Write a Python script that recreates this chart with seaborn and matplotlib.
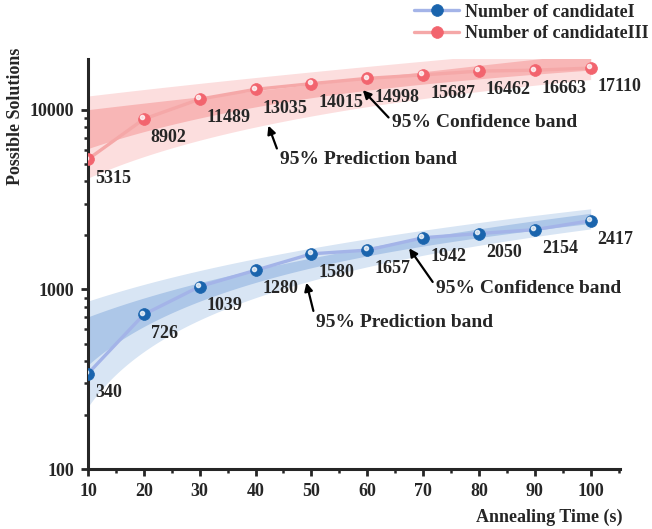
import numpy as np
import matplotlib
matplotlib.use("Agg")
import matplotlib.pyplot as plt
import matplotlib.ticker as mticker
from matplotlib.transforms import offset_copy
import seaborn as sns
import pandas as pd

# ---------------- data ----------------
annealing_time = [10, 20, 30, 40, 50, 60, 70, 80, 90, 100]
candidate_I = [340, 726, 1039, 1280, 1580, 1657, 1942, 2050, 2154, 2417]
candidate_III = [5315, 8902, 11489, 13035, 14015, 14998, 15687, 16462, 16663, 17110]
series_names = ["Number of candidateI", "Number of candidateIII"]
t_975_df8 = 2.306  # Student t, 95% two-sided, 8 dof

# ---------------- style ----------------
sns.set_style("ticks")
plt.rcParams["font.family"] = ["Liberation Serif", "DejaVu Serif"]
plt.rcParams["font.weight"] = "bold"
plt.rcParams["axes.labelweight"] = "bold"

fig = plt.figure(figsize=(6.52, 5.29), dpi=100)
ax = fig.add_axes([88 / 652, 60 / 529, 532 / 652, 410 / 529])

styles = {
    series_names[0]: dict(line="#a4b4e8", marker="#1a64ad", inner="#adc7e8", outer="#d8e5f4"),
    series_names[1]: dict(line="#f5a8a8", marker="#f2646e", inner="#f8b6b6", outer="#fcdede"),
}

x = np.array(annealing_time, dtype=float)
xg = np.linspace(10, 100, 300)

for name, vals in zip(series_names, [candidate_I, candidate_III]):
    y = np.array(vals, dtype=float)
    st = styles[name]
    # OLS linear fit with 95% confidence and prediction bands
    b, a = np.polyfit(x, y, 1)
    resid = y - (a + b * x)
    n = len(x)
    s = np.sqrt(np.sum(resid ** 2) / (n - 2))
    sxx = np.sum((x - x.mean()) ** 2)
    fit = a + b * xg
    se_mean = s * np.sqrt(1 / n + (xg - x.mean()) ** 2 / sxx)
    se_pred = s * np.sqrt(1 + 1 / n + (xg - x.mean()) ** 2 / sxx)
    ax.fill_between(xg, fit - t_975_df8 * se_pred, fit + t_975_df8 * se_pred,
                    color=st["outer"], lw=0, zorder=1)
    ax.fill_between(xg, fit - t_975_df8 * se_mean, fit + t_975_df8 * se_mean,
                    color=st["inner"], lw=0, zorder=2)

    df = pd.DataFrame({"t": annealing_time, "v": vals})
    sns.lineplot(data=df, x="t", y="v", ax=ax, color=st["line"], lw=2.4,
                 marker="o", markersize=8.5, markerfacecolor=st["marker"],
                 markeredgecolor=st["marker"], markeredgewidth=0.5,
                 label=name, zorder=4)
    # specular highlight on the spheres
    hl = offset_copy(ax.transData, fig=fig, x=-1.2, y=1.2, units="points")
    ax.plot(annealing_time, vals, ls="none", marker="o", markersize=3,
            color="white", alpha=0.75, transform=hl, zorder=5)
    for xi, yi in zip(annealing_time, vals):
        ax.annotate(f"{yi}", (xi, yi), xytext=(5, -13.5), textcoords="offset points",
                    ha="left", va="center", fontsize=13, fontweight="bold", zorder=6)

# band annotations (text position, arrow head)
band_notes = [
    ("95% Confidence band", (64.4, 8500), (59.2, 12900)),
    ("95% Prediction band", (44.4, 5330), (42.3, 8180)),
    ("95% Confidence band", (72.3, 1015), (67.5, 1696)),
    ("95% Prediction band", (50.8, 653), (49.1, 1091)),
]
for txt, tpos, head in band_notes:
    ax.annotate(txt, xy=head, xytext=tpos, ha="left", va="center",
                fontsize=14, fontweight="bold", zorder=6,
                arrowprops=dict(arrowstyle="-|>", color="black", lw=1.6,
                                mutation_scale=12, shrinkA=0, shrinkB=0,
                                relpos=(0.0, 0.6)))

ax.set_yscale("log")
ax.set_xlim(10, 105.25)
ax.set_ylim(100, 19230)
ax.set_xticks(range(10, 101, 10))
ax.xaxis.set_minor_locator(mticker.MultipleLocator(5))
ax.set_yticks([100, 1000, 10000])
ax.yaxis.set_major_formatter(mticker.FuncFormatter(lambda v, p: f"{int(v)}"))
ax.yaxis.set_minor_locator(mticker.LogLocator(base=10, subs=np.arange(2, 10)))
ax.yaxis.set_minor_formatter(mticker.NullFormatter())

for sp in ["top", "right"]:
    ax.spines[sp].set_visible(False)
for sp in ["left", "bottom"]:
    ax.spines[sp].set_linewidth(2.2)
ax.tick_params(which="major", direction="out", length=5, width=2, labelsize=13, pad=5)
ax.tick_params(which="minor", direction="out", length=3, width=1.8)
for lab in ax.get_xticklabels() + ax.get_yticklabels():
    lab.set_fontweight("bold")

ax.set_xlabel("Annealing Time (s)", fontsize=13, fontweight="bold", va="center")
ax.set_ylabel("Possible Solutions", fontsize=13, fontweight="bold", va="center")
ax.xaxis.set_label_coords(0.8675, -0.117)
ax.yaxis.set_label_coords(-0.137, 0.859)

leg = ax.legend(loc="upper right", bbox_to_anchor=(1.0, 1.0), bbox_transform=fig.transFigure,
                frameon=False, fontsize=13, handlelength=2.5, handletextpad=0.3,
                borderaxespad=0.1, borderpad=0.1, labelspacing=0.25)
for t in leg.get_texts():
    t.set_fontweight("bold")

fig.savefig("out.png", dpi=100)
